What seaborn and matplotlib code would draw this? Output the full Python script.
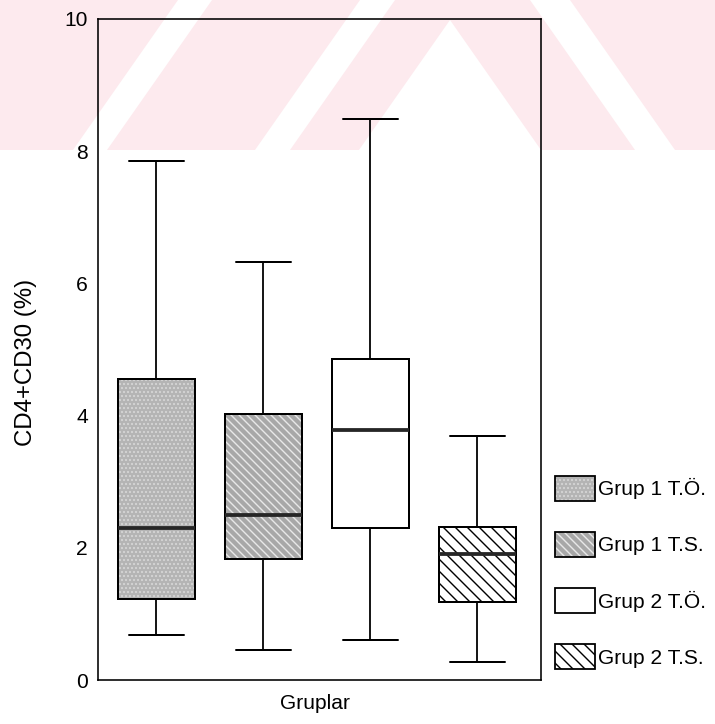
import matplotlib
matplotlib.use("Agg")
import numpy as np
import pandas as pd
import seaborn as sns
import matplotlib.pyplot as plt
from matplotlib.patches import Patch, Polygon, Rectangle
from matplotlib.colors import to_rgba

# ---- data (five-number summaries) ----
groups = ["Grup 1 T.Ö.", "Grup 1 T.S.", "Grup 2 T.Ö.", "Grup 2 T.S."]
grup1_to = [0.68, 1.22, 2.30, 4.55, 7.85]
grup1_ts = [0.45, 1.83, 2.50, 4.02, 6.32]
grup2_to = [0.60, 2.30, 3.78, 4.86, 8.49]
grup2_ts = [0.27, 1.18, 1.90, 2.32, 3.69]
yticks = [0, 2, 4, 6, 8, 10]
ylabel = "CD4+CD30 (%)"
xlabel = "Gruplar"

facecolors = ["#b4b4b4", "#a8a8a8", "#ffffff", "#ffffff"]
hatches = ["...", "\\\\\\", "", "\\\\"]
hatchcolors = ["#d6d6d6", "#e8e8e8", "#000000", "#000000"]

values = [grup1_to, grup1_ts, grup2_to, grup2_ts]
df = pd.DataFrame({
    "Gruplar": "Gruplar",
    "grup": np.repeat(groups, [len(v) for v in values]),
    "value": np.concatenate(values),
})

sns.set_style("white")
plt.rcParams["font.family"] = ["Liberation Sans", "DejaVu Sans"]
plt.rcParams["text.color"] = "black"
plt.rcParams["axes.labelcolor"] = "black"
plt.rcParams["xtick.color"] = "black"
plt.rcParams["ytick.color"] = "black"
plt.rcParams["hatch.linewidth"] = 1.4

W, H, DPI = 715, 724, 72
fig = plt.figure(figsize=(W / DPI, H / DPI), dpi=DPI)

# ---- faint pink watermark band behind the chart ----
bg = fig.add_axes([0, 0, 1, 1], zorder=0)
bg.set_xlim(0, W)
bg.set_ylim(H, 0)
bg.axis("off")
pink = "#fdeaee"
bg.add_patch(Rectangle((0, 0), W, 150, facecolor=pink, lw=0))
white_shapes = [
    [(73, 150), (107, 150), (212, 0), (178, 0)],
    [(255, 150), (290, 150), (395, 0), (360, 0)],
    [(359, 150), (541, 150), (450, 20)],
    [(635, 150), (675, 150), (570, 0), (530, 0)],
]
for s in white_shapes:
    bg.add_patch(Polygon(s, closed=True, facecolor="white", lw=0))

# ---- main axes ----
ax = fig.add_axes([98 / W, (H - 680) / H, 443 / W, 661 / H], zorder=1)
ax.set_facecolor("none")

width, gap = 0.8, 0.28
sns.boxplot(
    data=df, x="Gruplar", y="value", hue="grup", hue_order=groups,
    palette=facecolors, saturation=1, width=width, gap=gap, whis=np.inf,
    dodge=True, linecolor="black", linewidth=2, legend=False, ax=ax,
    medianprops={"linewidth": 3.8, "color": "#262626"},
    whiskerprops={"linewidth": 1.8},
    capprops={"linewidth": 2.0},
    boxprops={"linewidth": 2.0},
)


def set_hatch_color(p, c):
    if hasattr(p, "set_hatchcolor"):
        p.set_hatchcolor(c)
    else:
        p._hatch_color = to_rgba(c)


for p, fc, h, hc in zip(ax.patches, facecolors, hatches, hatchcolors):
    p.set_facecolor(fc)
    p.set_edgecolor("black")
    p.set_hatch(h)
    set_hatch_color(p, hc)

# caps about 70% of the box width
boxw = width / len(groups) * (1 - gap)
for ln in ax.lines:
    xd = np.asarray(ln.get_xdata(), dtype=float)
    yd = np.asarray(ln.get_ydata(), dtype=float)
    if len(xd) == 2 and yd[0] == yd[1]:
        w = abs(xd[1] - xd[0])
        if w < 0.9 * boxw:
            c = xd.mean()
            ln.set_xdata([c - 0.36 * boxw, c + 0.36 * boxw])

ax.set_xlim(-0.409, 0.419)
ax.set_ylim(0, 10)
ax.set_yticks(yticks)
ax.set_yticklabels([str(t) for t in yticks])
ax.set_xticks([0])
ax.set_xticklabels([""])
ax.tick_params(axis="both", direction="out", length=4, width=2.5,
               color="#333333", labelsize=21, pad=6, labelcolor="black")
for sp in ax.spines.values():
    sp.set_visible(True)
    sp.set_color("black")
    sp.set_linewidth(1.6)

ax.set_ylabel(ylabel, fontsize=24)
ax.yaxis.set_label_coords((37 - 98) / 443, (680 - 362) / 661)
ax.set_xlabel(xlabel, fontsize=21)
ax.xaxis.set_label_coords((315 - 98) / 443, (680 - 694) / 661)

# ---- legend ----
handles = [Patch(facecolor=fc, edgecolor="black", hatch=h, linewidth=1.8)
           for fc, h in zip(facecolors, hatches)]
leg = fig.legend(
    handles, groups, loc="upper left",
    bbox_to_anchor=(555 / W, 1 - 476 / H), frameon=False, fontsize=21,
    handlelength=40 / 21, handleheight=30 / 21, handletextpad=0.15,
    labelspacing=1.5, borderpad=0, borderaxespad=0,
)
for p, hc in zip(leg.get_patches(), hatchcolors):
    set_hatch_color(p, hc)

fig.savefig("out.png", dpi=DPI)
